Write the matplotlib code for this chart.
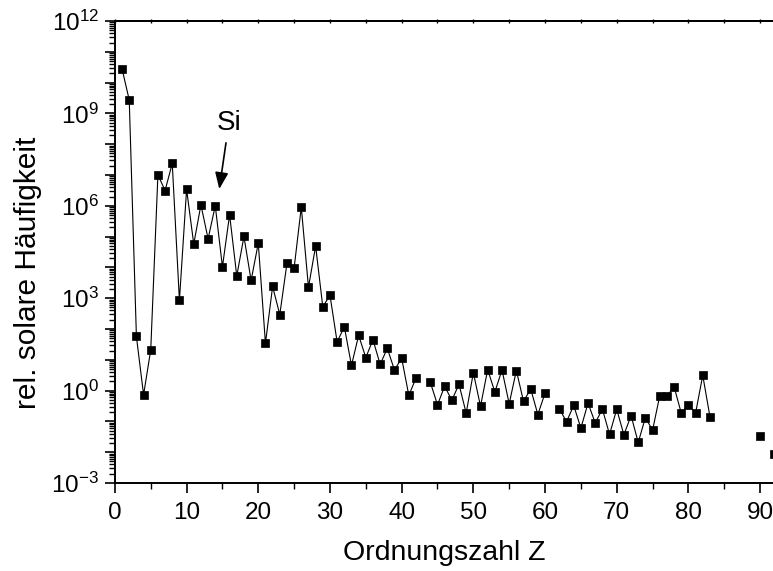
import numpy as np
import matplotlib
matplotlib.use("Agg")
import matplotlib.pyplot as plt
from matplotlib.ticker import FixedLocator, FuncFormatter, MultipleLocator, NullFormatter

plt.rcParams["font.family"] = ["Liberation Sans", "DejaVu Sans"]
plt.rcParams["mathtext.fontset"] = "custom"
plt.rcParams["mathtext.rm"] = "Liberation Sans"
plt.rcParams["mathtext.it"] = "Liberation Sans:italic"
plt.rcParams["mathtext.bf"] = "Liberation Sans:bold"

# Solar system abundances normalised to Si = 1e6 (nan = no value)
atomic_number = list(range(1, 93))
abundance = [
    2.79e10, 2.72e9, 57.1, 0.73, 21.2, 1.01e7, 3.13e6, 2.38e7, 843, 3.44e6,      # 1-10
    5.74e4, 1.074e6, 8.49e4, 1.00e6, 1.04e4, 5.15e5, 5240, 1.01e5, 3770, 6.11e4,  # 11-20
    34.2, 2400, 293, 1.35e4, 9550, 9.00e5, 2250, 4.93e4, 522, 1260,              # 21-30
    37.8, 119, 6.56, 62.1, 11.8, 45, 7.09, 23.5, 4.64, 11.4,                     # 31-40
    0.698, 2.55, np.nan, 1.86, 0.344, 1.39, 0.486, 1.61, 0.184, 3.82,            # 41-50
    0.309, 4.81, 0.90, 4.7, 0.372, 4.49, 0.446, 1.136, 0.1669, 0.8279,           # 51-60
    np.nan, 0.2582, 0.0973, 0.330, 0.0603, 0.3942, 0.0889, 0.2508, 0.0378, 0.2479,  # 61-70
    0.0367, 0.154, 0.0207, 0.133, 0.0517, 0.675, 0.661, 1.34, 0.187, 0.34,       # 71-80
    0.184, 3.15, 0.144, np.nan, np.nan, np.nan, np.nan, np.nan, np.nan, 0.0335,  # 81-90
    np.nan, 0.0090,                                                              # 91-92
]

x_ticks = [0, 10, 20, 30, 40, 50, 60, 70, 80, 90]
y_decades = list(range(-3, 13))
y_labelled = [-3, 0, 3, 6, 9, 12]

W, H = 773, 571
fig = plt.figure(figsize=(W / 100, H / 100), dpi=100)
ax = fig.add_axes([114.9 / W, (H - 483) / H, (W - 114.9) / W, (483 - 21) / H])

ax.plot(atomic_number, abundance, color="black", lw=0.8,
        marker="s", markersize=5.2, markerfacecolor="black",
        markeredgecolor="black", markeredgewidth=0.5)

ax.set_yscale("log")
ax.set_xlim(0, 91.8)
ax.set_ylim(1e-3, 1e12)

# y axis: a tick at every decade, labels every third decade
ax.yaxis.set_major_locator(FixedLocator([10.0 ** k for k in y_decades]))
ax.yaxis.set_major_formatter(FuncFormatter(
    lambda v, pos: (r"$\mathregular{10^{%d}}$" % round(np.log10(v)))
    if round(np.log10(v)) in y_labelled else ""))
minor = [m * 10.0 ** k for k in y_decades[:-1] for m in range(2, 10)]
ax.yaxis.set_minor_locator(FixedLocator(minor))
ax.yaxis.set_minor_formatter(NullFormatter())

# x axis
ax.xaxis.set_major_locator(FixedLocator(x_ticks))
ax.xaxis.set_minor_locator(MultipleLocator(5))

for side in ("left", "bottom", "top"):
    ax.spines[side].set_linewidth(1.4)
ax.spines["right"].set_visible(False)

ax.tick_params(which="major", direction="out", length=7.5, width=1.2,
               labelsize=17.5, top=False, right=False)
ax.tick_params(which="minor", direction="out", length=4, width=1.0,
               top=False, right=False)
ax.tick_params(axis="x", which="major", pad=6)
ax.tick_params(axis="y", which="major", pad=4)

# small ticks along the top frame
top = ax.secondary_xaxis("top")
top.xaxis.set_major_locator(MultipleLocator(5))
top.xaxis.set_major_formatter(NullFormatter())
top.tick_params(direction="inout", length=3.5, width=1.0)
top.spines["top"].set_linewidth(1.4)

ax.set_xlabel("Ordnungszahl Z", fontsize=20.5, labelpad=12)
ax.set_ylabel("rel. solare Häufigkeit", fontsize=21.5)
ax.yaxis.set_label_coords(-0.111, 0.455)

ax.annotate("Si", xy=(14.56, 3.5e6), xytext=(15.9, 4.9e8),
            fontsize=20, ha="center", va="center",
            arrowprops=dict(arrowstyle="-|>,head_length=1.0,head_width=0.4",
                            mutation_scale=10, color="black", lw=1.2,
                            shrinkA=3, shrinkB=0))

fig.savefig("out.png", dpi=100)
